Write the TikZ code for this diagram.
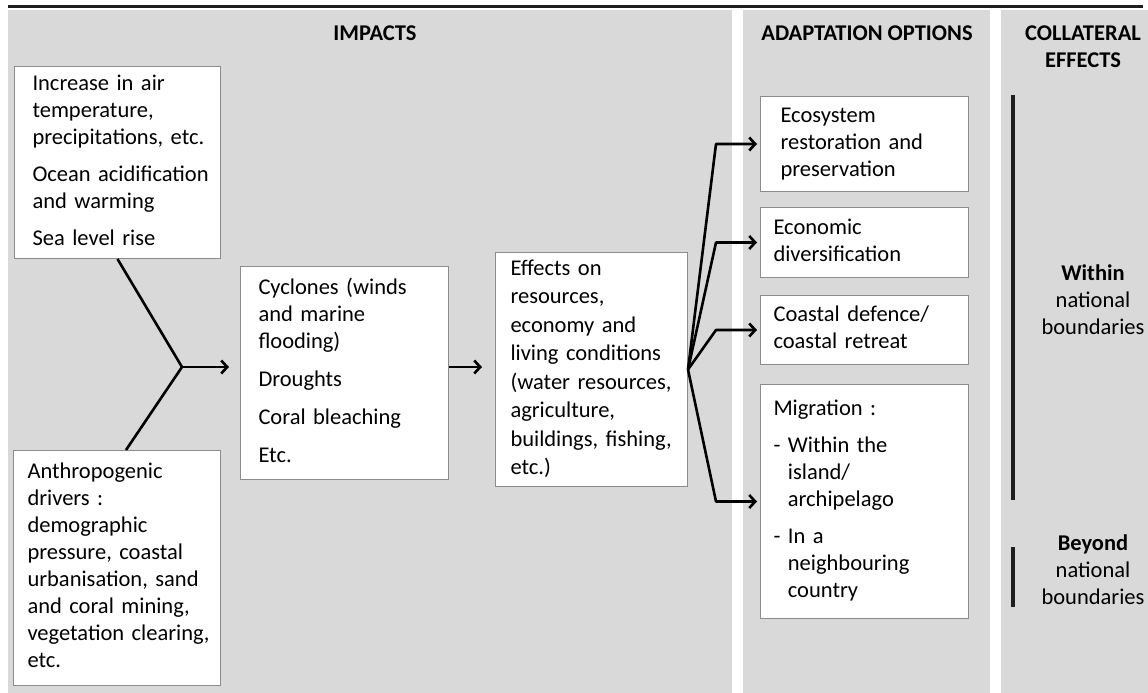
\documentclass[tikz,border=0pt]{standalone}
\usepackage{fontspec}
\setmainfont{Carlito}
\usepackage{tikz}
\usetikzlibrary{arrows.meta}
\usepackage{xcolor}
\definecolor{ColPanel}{RGB}{217,217,217}
\definecolor{ColBorder}{RGB}{140,140,140}
\definecolor{ColRule}{RGB}{30,30,30}
\newcommand{\BodyFont}{\fontsize{22.5}{27}\selectfont}
\newcommand{\Hang}{\phantom{-\ }}
\newcommand{\BoxLines}[1]{\begin{tabular}{@{}l@{}}#1\end{tabular}}
\tikzstyle{NodeBox}=[draw=ColBorder,fill=white,line width=1pt,anchor=north west,align=left,
inner ysep=0pt,font=\BodyFont]
\tikzstyle{NodeHead}=[align=center,font=\BodyFont\bfseries]
\tikzstyle{NodeSide}=[align=center,font=\BodyFont]
\tikzstyle{EdgeLine}=[line width=2.6pt,line join=round]
\tikzstyle{EdgeArrow}=[EdgeLine,-{Straight Barb[length=6pt,width=13pt]}]
\tikzstyle{EdgeBar}=[ColRule,line width=4pt]

\begin{document}
\begin{tikzpicture}[x=1pt,y=-1pt]
        \useasboundingbox(0,0)rectangle(1148,693);
        % panels
        \fill[ColPanel](8,10)rectangle(732,693);
        \fill[ColPanel](743,10)rectangle(990,693);
        \fill[ColPanel](1001,10)rectangle(1148,693);
        \draw[ColRule,line width=3pt](8,7)--(1143,7);
        \node[NodeHead](hImp)at(375,33){IMPACTS};
        \node[NodeHead](hAdapt)at(867,33){ADAPTATION OPTIONS};
        \node[NodeHead](hColl)at(1083,47){COLLATERAL\\EFFECTS};
        % impacts
        \node[NodeBox,minimum width=206,minimum height=192,inner xsep=18,text width=170](air)at(14,66)
            {\BoxLines{Increase in air\\temperature,\\precipitations, etc.\\[10pt]Ocean acidification\\and warming\\[10pt]Sea level rise}};
        \node[NodeBox,minimum width=207,minimum height=235,inner xsep=14,text width=179](anthro)at(13,450)
            {\BoxLines{Anthropogenic\\drivers :\\demographic\\pressure, coastal\\urbanisation, sand\\and coral mining,\\vegetation clearing,\\etc.}};
        \node[NodeBox,minimum width=208,minimum height=213,inner xsep=18,text width=172](hazard)at(240,266)
            {\BoxLines{Cyclones (winds\\and marine\\flooding)\\[11pt]Droughts\\[11pt]Coral bleaching\\[11pt]Etc.}};
        \node[NodeBox,minimum width=192,minimum height=234,inner xsep=15,text width=162,
            font=\fontsize{22.5}{28.5}\selectfont](effects)at(495,252)
            {\BoxLines{Effects on\\resources,\\economy and\\living conditions\\(water resources,\\agriculture,\\buildings, fishing,\\etc.)}};
        % adaptation
        \node[NodeBox,minimum width=208,minimum height=95,inner xsep=20,text width=168](eco)at(760,96)
            {\BoxLines{Ecosystem\\restoration and\\preservation}};
        \node[NodeBox,minimum width=208,minimum height=70,inner xsep=13,text width=182](econ)at(760,207)
            {\BoxLines{Economic\\diversification}};
        \node[NodeBox,minimum width=208,minimum height=69,inner xsep=13,text width=182](coast)at(760,295)
            {\BoxLines{Coastal defence/\\coastal retreat}};
        \node[NodeBox,minimum width=208,minimum height=234,inner xsep=13,text width=182](migr)at(760,384)
            {\BoxLines{Migration :\\[10pt]- Within the\\\Hang island/\\\Hang archipelago\\[10pt]- In a\\\Hang neighbouring\\\Hang country}};
        % collateral
        \node[NodeSide](within)at(1093,300){\textbf{Within}\\national\\boundaries};
        \node[NodeSide](beyond)at(1093,570){\textbf{Beyond}\\national\\boundaries};
        \draw[EdgeBar](1013,95)--(1013,500);
        \draw[EdgeBar](1013,547)--(1013,607);
        % connectors
        \coordinate(join)at(182,367);
        \draw[EdgeLine](air.south)--(join);
        \draw[EdgeLine]([xshift=9pt]anthro.north)--(join);
        \draw[EdgeArrow,shorten >=11pt](join)--(join-|hazard.west);
        \draw[EdgeArrow,shorten >=13pt](join-|hazard.east)--(join-|effects.west);
        \draw[EdgeArrow,shorten >=3pt](effects.east)--([xshift=-44pt]eco.west)--(eco.west);
        \draw[EdgeArrow,shorten >=3pt](effects.east)--([xshift=-44pt]econ.west)--(econ.west);
        \draw[EdgeArrow,shorten >=3pt](effects.east)--([xshift=-44pt]coast.west)--(coast.west);
        \draw[EdgeArrow,shorten >=3pt](effects.east)--([xshift=-44pt]migr.west)--(migr.west);
    \end{tikzpicture}
\end{document}
